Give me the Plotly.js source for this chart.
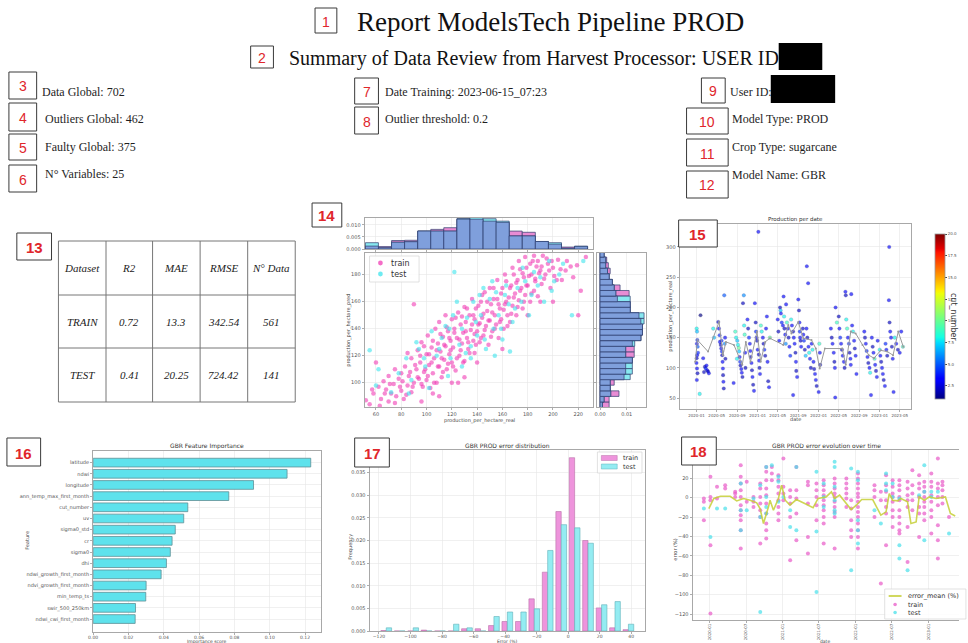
<!DOCTYPE html>
<html><head><meta charset="utf-8">
<script src="https://cdn.plot.ly/plotly-3.0.1.min.js"></script>
<style>html,body{margin:0;padding:0;background:#fff;width:968px;height:643px;overflow:hidden;}#chart{display:block;width:968px;height:643px;overflow:hidden;}</style>
</head><body><div id="chart"></div>
<script>
// ---------------- DATA ----------------
const reportTitle = "Report ModelsTech Pipeline PROD";
const reportSubtitle = "Summary of Data Review from Harvest Processor: USER ID";
const summaryLeft = ["Data Global: 702", "Outliers Global: 462", "Faulty Global: 375", "N° Variables: 25"];
const summaryMid = ["Date Training: 2023-06-15_07:23", "Outlier threshold: 0.2"];
const summaryRight = ["User ID:", "Model Type: PROD", "Crop Type: sugarcane", "Model Name: GBR"];

const tableHeader = ["Dataset", "R2", "MAE", "RMSE", "N° Data"];
const tableTrain = ["TRAIN", "0.72", "13.3", "342.54", "561"];
const tableTest = ["TEST", "0.41", "20.25", "724.42", "141"];

const seriesNames = ["train", "test"];
const errMeanName = "error_mean (%)";

// chart 14 : real vs predicted
const trainReal = [52,55,58,62,64,66,68,70,72,74,76,78,80,80,82,83,85,86,88,88,90,90,92,93,94,95,96,97,98,100,100,101,102,103,104,105,106,107,108,109,110,110,111,112,113,114,115,115,116,117,118,119,120,120,121,122,123,124,125,126,127,128,129,130,130,131,132,133,134,135,136,137,138,138,139,140,141,142,143,144,145,146,147,148,149,150,151,152,153,154,155,156,157,158,159,160,161,162,163,164,165,166,167,168,169,170,171,172,173,174,175,176,177,178,179,180,182,183,184,185,186,187,188,190,191,192,194,196,198,200,203,206,210,214,222,220,110,96,125,140,60,
57,63,67,71,75,79,81,84,87,89,91,93,95,96,98,99,101,102,104,105,106,108,109,111,112,113,114,116,117,118,119,121,122,123,124,126,127,128,129,131,132,133,134,136,137,138,139,141,142,143,144,145,146,148,149,150,151,152,153,154,156,157,158,159,161,162,163,164,166,167,168,169,171,172,173,174,176,177,178,179,181,182,183,185,186,188,189,191,193,195,197,199,201,204,207,211,216,219,226,190,75,85,105,130,160,180,120,70,200,65,58];
const trainPred = [87,84,92,97,88,101,95,86,92,99,90,103,94,107,88,112,98,105,118,93,100,158,110,124,103,115,130,97,108,121,102,135,113,96,126,107,118,140,100,129,112,145,123,104,134,117,127,150,110,138,121,131,115,147,126,140,109,133,152,120,143,129,137,156,116,145,133,125,150,139,162,131,147,122,155,138,143,130,160,148,135,167,142,153,128,146,158,138,170,150,143,162,133,155,147,170,140,158,175,150,163,145,172,157,180,166,150,176,161,184,170,155,178,165,185,172,160,180,190,168,177,186,164,183,173,194,180,188,170,185,176,184,183,186,168,150,90,86,100,115,115,
95,83,92,99,85,97,101,91,108,97,113,104,120,99,127,110,105,121,115,131,100,124,112,136,118,108,128,141,114,133,124,112,137,148,118,132,124,149,115,138,155,130,122,143,150,136,128,157,144,133,165,151,139,160,146,170,134,152,162,140,176,158,145,166,154,180,160,142,170,151,185,163,174,156,190,168,181,160,193,172,179,188,166,194,175,190,181,186,177,192,183,190,179,191,176,190,178,187,193,160,110,122,92,104,125,150,100,105,160,78,80];
const testReal = [55,62,72,84,88,94,99,104,108,112,117,121,122,126,128,132,135,137,140,143,147,150,153,155,157,160,163,165,168,172,175,178,181,185,188,193,197,201,205,215,224,135,145,166,118,
60,78,92,102,115,119,124,131,139,146,152,159,162,170,176,183,190,199,208,128,142,110,98,86,154];
const testPred = [124,110,93,118,102,125,112,138,120,133,105,150,182,128,112,148,127,160,135,150,125,162,140,167,150,132,172,158,145,170,160,175,150,182,172,160,190,175,180,150,190,118,170,123,140,
98,107,130,96,142,118,160,122,145,132,175,140,165,155,185,165,178,168,188,140,165,125,118,92,120];
const histXCenters = [56.8,67.1,77.5,87.8,98.2,108.5,118.8,129.2,139.5,149.9,160.2,170.5,180.9,191.2,201.6,211.9,222.2];
const histXTrain = [0.0012,0.0010,0.0035,0.0036,0.0074,0.0081,0.0088,0.0123,0.0123,0.0115,0.0110,0.0074,0.0069,0.0031,0.0020,0.0008,0.0010];
const histXTest = [0.0026,0.0005,0.0028,0.0030,0.0074,0.0074,0.0074,0.0126,0.0134,0.0125,0.0115,0.0054,0.0054,0.0031,0.0026,0.0003,0.0012];
const histYCenters = [83.7,87.8,91.9,96.0,100.2,104.3,108.4,112.5,116.7,120.8,124.9,129.0,133.2,137.3,141.4,145.5,149.7,153.8,157.9,162.0,166.2,170.3,174.4,178.5,182.7,186.8,190.9,195.0];
const histYTrain = [0.0034,0.0034,0.0071,0.0038,0.0053,0.0090,0.0096,0.0096,0.0121,0.0128,0.0128,0.0121,0.0153,0.0159,0.0159,0.0153,0.0146,0.0113,0.0113,0.0065,0.0109,0.0075,0.0046,0.0034,0.0038,0.0031,0.0025,0.0015];
const histYTest = [0.0009,0.0015,0.0040,0.0038,0.0038,0.0113,0.0121,0.0121,0.0121,0.0096,0.0096,0.0130,0.0153,0.0159,0.0159,0.0165,0.0165,0.0113,0.0113,0.0113,0.0059,0.0053,0.0046,0.0034,0.0028,0.0021,0.0021,0.0015];

// chart 15 : production per date
const prodDates = ["2020-01-02","2020-01-04","2020-01-06","2020-01-03","2020-01-08","2020-01-05","2020-01-02","2020-01-04","2020-01-07","2020-01-03","2020-01-25","2020-01-20","2020-01-10","2020-01-01",
"2020-02-10","2020-02-20","2020-02-25","2020-03-05","2020-03-10","2020-03-15","2020-02-15","2020-03-01",
"2020-05-10","2020-05-14","2020-05-18","2020-05-20","2020-05-25","2020-05-28","2020-06-01","2020-06-03","2020-06-05","2020-06-07","2020-06-08","2020-06-10","2020-06-12","2020-06-15","2020-06-18","2020-06-20","2020-04-10","2020-04-15","2020-06-22","2020-05-30",
"2020-08-20","2020-08-25","2020-09-01","2020-09-05","2020-09-10","2020-09-12","2020-09-15","2020-09-18","2020-09-20","2020-09-25","2020-09-28","2020-10-02","2020-10-05","2020-10-10","2020-10-12","2020-10-15","2020-08-10","2020-10-18","2020-10-20","2020-08-30",
"2020-11-01","2020-11-05","2020-11-10","2020-11-15","2020-11-18","2020-11-20","2020-11-25","2020-11-28","2020-12-01","2020-12-05","2020-12-10","2020-12-15","2020-12-20","2020-12-22","2020-12-25","2020-12-28","2021-01-01","2021-01-05","2021-01-08","2021-01-10","2021-01-12","2021-01-15","2021-01-20","2021-01-25","2021-02-01","2021-02-05","2021-02-10","2021-02-15","2021-02-20","2021-02-25","2021-03-01","2021-03-05","2021-03-10","2021-03-15",
"2021-05-01","2021-05-05","2021-05-10","2021-05-15","2021-05-18","2021-05-20","2021-05-25","2021-06-01","2021-06-05","2021-06-08","2021-06-10","2021-06-15","2021-06-18","2021-06-20","2021-06-25","2021-07-01","2021-07-05","2021-07-10","2021-07-15","2021-07-20","2021-07-25","2021-08-01","2021-08-05","2021-08-10","2021-08-15","2021-08-18","2021-08-20","2021-08-25","2021-09-01","2021-09-05","2021-09-08","2021-09-10","2021-09-12","2021-09-15","2021-09-18","2021-10-22","2021-10-30","2021-09-28","2021-10-01","2021-10-05","2021-10-10","2021-10-15","2021-10-20","2021-10-25","2021-11-01","2021-11-05","2021-11-10","2021-11-15","2021-11-20","2021-11-25","2021-12-01","2021-12-05","2021-12-10","2021-12-15","2021-12-20","2022-01-01","2022-01-05","2022-01-08","2022-01-10","2021-08-01",
"2022-03-15","2022-03-20","2022-03-25","2022-04-01","2022-04-05","2022-04-08","2022-04-10","2022-04-12","2022-04-20","2022-05-01","2022-05-05","2022-05-10","2022-05-15","2022-05-20","2022-05-25","2022-06-01","2022-06-05","2022-06-10","2022-06-12","2022-06-15","2022-06-20","2022-06-25","2022-07-01","2022-07-05","2022-07-10","2022-07-12","2022-07-15","2022-07-20","2022-07-25","2022-08-01","2022-08-05","2022-08-10","2022-08-15",
"2022-10-01","2022-10-05","2022-10-10","2022-10-15","2022-10-20","2022-10-25","2022-11-01","2022-11-05","2022-11-10","2022-11-15","2022-11-20","2022-11-25","2022-12-01","2022-12-05","2022-12-10","2022-12-15","2022-12-20","2023-01-01","2023-01-05","2023-01-10","2023-01-15","2023-01-20","2023-01-25","2023-02-01","2023-02-05","2023-02-10","2023-02-15","2023-02-27","2023-02-25","2023-03-01","2023-03-05","2023-03-10","2023-03-15","2023-03-20","2023-03-25","2023-04-01","2023-04-10","2023-04-20","2023-05-01","2023-05-10","2023-05-20"];
const prodVals = [165,160,146,140,135,121,116,99,91,80,187,57,125,108,
116,102,99,96,94,91,93,104,
176,165,154,143,138,132,127,121,110,99,88,77,66,220,140,150,165,150,115,145,
160,150,145,138,133,127,118,110,104,98,92,85,207,220,170,155,75,125,100,115,
180,165,150,140,128,118,108,96,85,72,62,207,175,160,150,145,130,325,122,112,100,90,170,160,150,140,130,120,165,185,110,78,68,150,
180,160,145,200,195,190,175,170,218,185,165,155,140,205,175,165,150,135,120,180,170,160,150,140,125,110,95,85,213,195,175,160,150,145,135,268,240,165,155,145,130,120,165,150,135,125,115,100,140,130,110,98,90,80,70,60,140,125,105,55,
165,150,140,125,110,100,51,200,175,185,165,150,140,130,120,110,100,226,220,180,165,150,140,125,115,105,222,170,160,145,132,120,90,
160,150,140,128,118,108,100,92,55,150,135,125,115,105,95,85,145,130,120,110,100,90,80,70,140,130,120,300,212,175,160,150,135,115,60,150,140,130,125,160,135];
const prodCuts = [8,7,4,3,5,3,2,3,2,3,1,8,4,3,
3,2,4,3,2,3,2,3,
2,3,4,3,2,3,4,2,3,3,2,3,2,5,6,3,8,7,2,4,
9,8,7,8,10,7,3,4,2,3,3,2,2,6,8,9,3,3,2,8,
3,2,4,3,3,2,3,2,3,2,3,3,2,4,3,2,3,3,2,3,2,3,9,8,3,2,4,2,3,3,3,2,3,10,
3,2,3,2,7,3,4,3,3,8,2,3,6,3,9,3,2,3,4,8,3,2,3,3,2,3,2,3,3,2,3,4,3,2,3,3,3,2,3,4,2,7,3,2,3,8,3,2,3,8,3,2,3,3,2,3,9,3,2,3,
3,2,3,3,2,3,3,3,9,2,3,4,3,2,3,3,2,3,2,8,9,3,4,2,3,3,3,3,8,3,2,3,3,
3,2,3,4,3,2,3,8,3,3,2,3,9,3,2,3,3,8,3,2,3,3,2,3,4,3,2,3,3,2,3,3,2,3,3,8,3,2,3,3,9];
const prodLineDates = ["2019-12-24","2020-01-07","2020-03-10","2020-05-15","2020-06-07","2020-06-25","2020-08-12","2020-10-01","2020-10-22","2020-11-19","2020-12-28","2021-01-19","2021-02-15","2021-03-15","2021-06-03","2021-07-03","2021-07-22","2021-09-01","2021-10-01","2021-11-19","2021-12-15","2022-01-07","2022-02-07","2022-05-22","2022-06-12","2022-07-12","2022-08-10","2022-09-20","2022-10-28","2022-11-28","2023-01-07","2023-02-15","2023-03-22","2023-04-22","2023-05-22"];
const prodLineVals = [110,146,127,176,121,143,138,105,143,110,160,110,143,149,138,171,157,176,149,146,132,99,132,132,105,160,157,138,121,116,129,127,121,160,135];

// chart 16 : feature importance
const featureNames = ["latitude","ndwi","longitude","ann_temp_max_first_month","cut_number","uv","sigma0_std","cr","sigma0","dhi","ndwi_growth_first_month","ndvi_growth_first_month","min_temp_ts","swir_500_250km","ndwi_cwi_first_month"];
const featureImportance = [0.1232,0.1098,0.0908,0.0768,0.0536,0.0513,0.0465,0.0447,0.0437,0.0415,0.0385,0.0300,0.0298,0.0240,0.0238];

// chart 17 : error distribution
const errBins = [-115.4,-106.9,-98.3,-89.8,-81.3,-72.7,-64.2,-55.6,-47.1,-38.6,-30.0,-21.5,-13.0,-4.4,4.1,12.6,21.2,29.7,38.2];
const errHistTrain = [0.0001,0,0,0.0002,0,0,0.0005,0.0005,0.0012,0.0021,0.0021,0.0071,0.0130,0.0264,0.0383,0.0200,0.0051,0.0007,0.0003];
const errHistTest = [0.0007,0,0.0007,0,0,0.0015,0.0007,0,0.0032,0.0042,0.0042,0.0049,0.0178,0.0235,0.0228,0.0194,0.0058,0.0065,0.0015];

// chart 18 : error over time
const errColDates = ["2019-12-02","2020-01-04","2020-02-06","2020-03-18","2020-05-07","2020-06-04","2020-07-04","2020-08-07","2020-09-10","2020-10-10","2020-11-07","2020-12-10","2021-01-04","2021-02-07","2021-03-10","2021-05-07","2021-06-19","2021-07-25","2021-09-18","2021-11-16","2021-12-10","2022-01-13","2022-04-06","2022-05-08","2022-06-03","2022-07-06","2022-08-09","2022-09-19","2022-10-13","2022-11-16","2022-12-12","2023-01-16","2023-02-18","2023-03-13","2023-04-15"];
const errTrainCols = [[-1,-4.4,-23.3],[21.4,0.7,-2.7,-49,-119.4],[11.1,-1],[12.8,9.3],[5.9,4.2,0.7],[33.4,21.4,14.5,7.6,0.7,-7.8,-13,-18.1,-23.3,-33.6,-52.5],[16.2,-4.4],[0.7,-4.4,-9.6],[14.5,9.3,0.7,-6.1,-13,-19.9,-47.3],[31.6,26.5,17.9,9.3,2.5,-6.1,-16.4,-26.7,-33.6,-42.2],[31.6,24.8,17.9],[23.1,17.9,11.1,4.2,-2.7,-9.6,-16.4,-23.3],[40.3,11.1,4.2,-2.7],[7.6,0.7,-6.1,-19.9,-64.5],[31.6,7.6,-1,-16.4,-43.9],[16.2,12.8,-6.1,-40.5,-57.6],[14.5,7.6,0.7,-7.8,-23.3],[17.9,12.8,7.6,2.5,-2.7,-7.8,-13,-19.9,-26.7,-47.3],[19.7,14.5,9.3,4.2,0.7,-4.4,-9.6,-14.7,-19.9,-52.5],[19.7,14.5,9.3,4.2,-1,-9.6],[-2.7,-11.3,-23.3,-33.6,-40.5],[24.8,19.7,14.5,9.3,4.2,0.7,-4.4,-9.6,-14.7,-19.9,-26.7,-33.6,-40.5,-52.5],[12.8,7.6,0.7,-19.9],[5.9,-2.7,-88.5],[23.1,12.8,5.9,-2.7,-9.6,-16.4,-49],[17.9,11.1,4.2,0.7,-4.4,-13,-19.9,-30.2],[17.9,12.8,7.6,0.7,-2.7,-13,-19.9,-26.7,-33.6,-37],[16.2,9.3,2.5,-2.7,-9.6,-30.2,-66.2],[28.2,12.8,4.2,-2.7,-13],[23.1,14.5,9.3,0.7,-9.6,-16.4,-40.5],[16.2,11.1,5.9,0.7,-4.4,-9.6,-16.4,-23.3],[24.8,16.2,11.1,2.5,-4.4,-13,-19.9,-37],[40.3,14.5,9.3,0.7,-7.8,-28.4,-43.9,-62.8],[16.2,12.8,7.6,0.7,-6.1],[-19.9]];
const errTestCols = [[-11.3],[-40.5],[-11.3],[-11.3],[],[14.5,-13,-33.6],[-13],[-1],[12.8,-19.9,-117.7],[31.6,0.7,-9.6,-16.4],[33.4],[21.4,16.2,-4.4],[0.7],[-13,-30.2],[31.6,-33.6],[],[26.5,-35,-97.1],[14.5,0.7,-9.6],[36.8,31.6,11.1,-2.7,-13,-16.4],[],[30,-74.8],[26.5,17.9,-23.3,-33.6,-47.3],[-13],[-26.7],[24.8,14.5,7.6],[14.5,0.7],[-1,-49,-62.8],[-74.8],[],[2.5],[33.4,5.9,-43.9],[5.9,0.7],[5.9],[],[-37]];
const errMeanDates = ["2019-12-27","2020-01-21","2020-02-23","2020-04-12","2020-05-15","2020-06-18","2020-07-21","2020-08-23","2020-09-09","2020-09-26","2020-10-21","2020-10-29","2020-11-15","2020-12-10","2020-12-26","2021-01-13","2021-02-06","2021-03-10","2021-04-21","2021-06-02","2021-06-27","2021-08-06","2021-09-02","2021-09-18","2021-10-13","2021-11-08","2021-12-10","2022-01-05","2022-02-01","2022-03-28","2022-05-08","2022-06-03","2022-06-19","2022-07-06","2022-08-01","2022-08-16","2022-09-19","2022-10-06","2022-11-01","2022-11-16","2022-12-12","2023-01-06","2023-02-09","2023-03-28","2023-04-22","2023-05-16"];
const errMeanVals = [-11.3,-0.9,1.4,1.4,-3.4,-0.9,-2.7,-5.4,-11.3,-26.7,-9.6,-2.7,-13,-0.9,12.8,-2.7,-7.8,-2,-6.1,-10.3,-0.9,0.7,5.9,-0.9,2.5,-4.4,-12.3,-7.8,-2,-2,-18.1,-14.7,4.2,-2.7,-3.4,-0.9,-4.4,-26.7,-25,0.7,-2.7,0.7,-0.9,0.7,-16.4,-18.9];

// ---------------- HELPERS ----------------
const W = 968, H = 643;
const X = v => v / W, Y = v => 1 - v / H;
const dx = (a, b) => [a / W, b / W], dy = (a, b) => [1 - b / H, 1 - a / H];
const tickFont = {family: 'DejaVu Sans', size: 5, color: '#555'};
function axis(o) {
  return Object.assign({showline: true, linecolor: '#a8a8a8', linewidth: 1, mirror: true,
    showgrid: true, gridcolor: '#e6e6e6', gridwidth: 0.6, zeroline: false,
    ticks: 'outside', ticklen: 2, tickwidth: 0.6, tickcolor: '#777', tickfont: tickFont, fixedrange: true}, o);
}
const serif = 'Liberation Serif, Times New Roman, serif';
function ann(x, y, text, o) {
  return Object.assign({xref: 'paper', yref: 'paper', x: X(x), y: Y(y), text: text, showarrow: false,
    xanchor: 'left', yanchor: 'middle', font: {family: serif, size: 12, color: '#1e1e1e'}}, o || {});
}
function small(x, y, text, o) {
  return ann(x, y, text, Object.assign({xanchor: 'center', font: {family: 'DejaVu Sans', size: 5, color: '#444'}}, o || {}));
}
function rectPx(x0, y0, x1, y1, line, fill) {
  return {type: 'rect', xref: 'paper', yref: 'paper', x0: X(x0), x1: X(x1), y0: Y(y1), y1: Y(y0),
    line: line, fillcolor: fill, layer: 'above'};
}
function linePx(x0, y0, x1, y1, color, width) {
  return {type: 'line', xref: 'paper', yref: 'paper', x0: X(x0), x1: X(x1), y0: Y(y0), y1: Y(y1),
    line: {color: color || '#777', width: width || 1}, layer: 'above'};
}
function dotPx(x, y, r, color) {
  return {type: 'circle', xref: 'paper', yref: 'paper', x0: X(x - r), x1: X(x + r), y0: Y(y + r), y1: Y(y - r),
    fillcolor: color, line: {width: 0}, opacity: 0.75, layer: 'above'};
}

const shapes = [], annotations = [];
const pink = '#f03cb4', cyan = '#3ee4ec';

// numbered red boxes
const numBoxes = [
  ['1', 318, 8, 340, 33, false], ['2', 253, 46, 276, 68, false],
  ['3', 9, 72, 37, 99, false], ['4', 9, 103, 37, 131, false], ['5', 9, 134, 37, 160, false], ['6', 9, 165, 37, 192, false],
  ['7', 358, 78, 382, 104, false], ['8', 358, 107, 382, 134, false],
  ['9', 708, 78, 732, 103, false], ['10', 693, 108, 735, 134, false], ['11', 693, 139, 735, 166, false], ['12', 693, 171, 735, 198, false],
  ['13', 17, 233, 52, 260, true], ['14', 315, 203, 345, 227, true], ['15', 685, 220, 724, 247, true],
  ['16', 7, 438, 41, 466, true], ['17', 358, 438, 393, 467, true], ['18', 688, 437, 723, 465, true]
];
numBoxes.forEach(b => {
  shapes.push(rectPx(b[1], b[2], b[3], b[4], {color: '#3a3a3a', width: 1}, '#ffffff'));
  annotations.push(ann((b[1] + b[3]) / 2, (b[2] + b[4]) / 2 + 1, b[5] ? '<b>' + b[0] + '</b>' : b[0],
    {xanchor: 'center', font: {family: 'Liberation Sans, Arial', size: b[5] ? 15 : 14, color: '#e0262b'}}));
});

// header texts
annotations.push(ann(556, 22, reportTitle, {xanchor: 'center', font: {family: serif, size: 27, color: '#111'}}));
annotations.push(ann(290, 59, reportSubtitle, {font: {family: serif, size: 20, color: '#111'}}));
shapes.push(rectPx(786, 43, 830, 70, {width: 0}, '#000'));
const leftX = [40, 43, 43, 43], leftY = [92, 119, 147, 174];
summaryLeft.forEach((t, i) => annotations.push(ann(leftX[i], leftY[i], t)));
const midY = [92, 119];
summaryMid.forEach((t, i) => annotations.push(ann(387, midY[i], t)));
const rightX = [735, 737, 737, 737], rightY = [92, 119, 147, 175];
summaryRight.forEach((t, i) => annotations.push(ann(rightX[i], rightY[i], t)));
shapes.push(rectPx(778, 75, 843, 103, {width: 0}, '#000'));

// table 13
const colEdges = [59, 107, 154, 202, 250, 298], rowEdges = [241, 295, 348, 402];
colEdges.forEach(c => shapes.push(linePx(c, rowEdges[0], c, rowEdges[3])));
rowEdges.forEach(r => shapes.push(linePx(colEdges[0], r, colEdges[5], r)));
[tableHeader, tableTrain, tableTest].forEach((row, ri) => {
  row.forEach((t, ci) => annotations.push(ann((colEdges[ci] + colEdges[ci + 1]) / 2, (rowEdges[ri] + rowEdges[ri + 1]) / 2,
    '<i>' + t + '</i>', {xanchor: 'center', font: {family: serif, size: 11, color: '#222'}})));
});

// sub-chart titles & axis labels
annotations.push(small(803, 220, 'Production per date', {font: {family: 'DejaVu Sans', size: 5.5, color: '#333'}}));
annotations.push(small(209, 446, 'GBR Feature Importance', {font: {family: 'DejaVu Sans', size: 6, color: '#333'}}));
annotations.push(small(512, 446, 'GBR PROD error distribution', {font: {family: 'DejaVu Sans', size: 6, color: '#333'}}));
annotations.push(small(834, 446, 'GBR PROD error evolution over time', {font: {family: 'DejaVu Sans', size: 6, color: '#333'}}));
annotations.push(small(484, 420, 'production_per_hectare_real'));
annotations.push(small(351, 330, 'production_per_hectare_pred', {textangle: -90}));
annotations.push(small(803, 419, 'date'));
annotations.push(small(677, 316, 'production_per_hectare_real', {textangle: -90}));
annotations.push(small(963, 317, 'cut_number', {textangle: 90, font: {family: 'DejaVu Sans', size: 8, color: '#333'}}));
annotations.push(small(27, 540, 'Feature', {textangle: -90}));
annotations.push(small(209, 641.3, 'Importance score', {font: {family: 'DejaVu Sans', size: 4.5, color: '#444'}}));
annotations.push(small(353, 547, 'Frequency', {textangle: -90}));
annotations.push(small(512, 641.3, 'Error (%)', {font: {family: 'DejaVu Sans', size: 4.5, color: '#444'}}));
annotations.push(small(681, 550, 'error (%)', {textangle: -90}));
annotations.push(small(833, 641.3, 'date', {font: {family: 'DejaVu Sans', size: 4.5, color: '#444'}}));

// manual legends
const legFont = s => ({family: 'DejaVu Sans', size: s, color: '#333'});
shapes.push(rectPx(373, 256, 423, 282, {color: '#d4d4d4', width: 0.7}, 'rgba(255,255,255,0.85)'));
shapes.push(dotPx(384, 263, 2.4, pink));
shapes.push(dotPx(384, 274, 2.4, cyan));
annotations.push(ann(393, 263, seriesNames[0], {font: legFont(8)}));
annotations.push(ann(393, 274, seriesNames[1], {font: legFont(8)}));
shapes.push(rectPx(603, 452, 648, 473, {color: '#d4d4d4', width: 0.7}, 'rgba(255,255,255,0.85)'));
shapes.push(rectPx(607, 455.5, 623, 460.5, {color: '#b870a8', width: 0.5}, '#ee94dc'));
shapes.push(rectPx(607, 464, 623, 469, {color: '#60b0b8', width: 0.5}, '#94ecf2'));
annotations.push(ann(627, 458, seriesNames[0], {font: legFont(6.5)}));
annotations.push(ann(627, 466.5, seriesNames[1], {font: legFont(6.5)}));
shapes.push(rectPx(893, 589, 975, 619, {color: '#d4d4d4', width: 0.7}, 'rgba(255,255,255,0.85)'));
shapes.push(linePx(897, 596, 910, 596, '#c6cf36', 1.6));
shapes.push(dotPx(903.5, 604.5, 1.8, '#e85ac8'));
shapes.push(dotPx(903.5, 612.5, 1.8, '#48e0ea'));
annotations.push(ann(914, 596, errMeanName, {font: legFont(6.5)}));
annotations.push(ann(914, 604.5, seriesNames[0], {font: legFont(6.5)}));
annotations.push(ann(914, 612.5, seriesNames[1], {font: legFont(6.5)}));

// ---------------- TRACES ----------------
const traces = [];
const jetMpl = [[0,'rgb(0,0,127)'],[0.11,'rgb(0,0,255)'],[0.125,'rgb(0,0,255)'],[0.34,'rgb(0,219,255)'],[0.375,'rgb(20,255,226)'],[0.64,'rgb(238,255,8)'],[0.66,'rgb(255,236,0)'],[0.89,'rgb(255,18,0)'],[0.91,'rgb(228,0,0)'],[1,'rgb(127,0,0)']];
traces.push({type: 'scatter', mode: 'markers', x: trainReal, y: trainPred, name: seriesNames[0], xaxis: 'x', yaxis: 'y',
  marker: {color: pink, size: 4.5, opacity: 0.6}});
traces.push({type: 'scatter', mode: 'markers', x: testReal, y: testPred, name: seriesNames[1], xaxis: 'x', yaxis: 'y',
  marker: {color: cyan, size: 4.5, opacity: 0.6}});
const edge = {color: '#2e3d6e', width: 0.7};
const minOf = (a, b) => a.map((v, i) => Math.min(v, b[i]));
traces.push({type: 'bar', x: histXCenters, y: histXTrain, width: 10.3, xaxis: 'x2', yaxis: 'y2', marker: {color: '#e88cd4', line: edge}});
traces.push({type: 'bar', x: histXCenters, y: histXTest, width: 10.3, xaxis: 'x2', yaxis: 'y2', marker: {color: '#88e8f0', line: edge}});
traces.push({type: 'bar', x: histXCenters, y: minOf(histXTrain, histXTest), width: 10.3, xaxis: 'x2', yaxis: 'y2', marker: {color: '#7f9fdc', line: edge}});
traces.push({type: 'bar', orientation: 'h', y: histYCenters, x: histYTrain, width: 4.1, xaxis: 'x3', yaxis: 'y3', marker: {color: '#e88cd4', line: edge}});
traces.push({type: 'bar', orientation: 'h', y: histYCenters, x: histYTest, width: 4.1, xaxis: 'x3', yaxis: 'y3', marker: {color: '#88e8f0', line: edge}});
traces.push({type: 'bar', orientation: 'h', y: histYCenters, x: minOf(histYTrain, histYTest), width: 4.1, xaxis: 'x3', yaxis: 'y3', marker: {color: '#7f9fdc', line: edge}});
traces.push({type: 'scatter', mode: 'markers', x: prodDates, y: prodVals, xaxis: 'x4', yaxis: 'y4',
  marker: {color: prodCuts, colorscale: jetMpl, cmin: 1, cmax: 20, size: 3.6, opacity: 0.65, line: {width: 0.4, color: 'rgba(0,0,90,0.5)'},
    colorbar: {x: X(934), xanchor: 'left', y: 1 - 316.5 / H, yanchor: 'middle', len: 185 / H, lenmode: 'fraction', thickness: 10,
      outlinewidth: 0.8, outlinecolor: '#999', ticks: 'outside', ticklen: 2, tickfont: {family: 'DejaVu Sans', size: 4, color: '#555'},
      tickvals: [2.5, 5, 7.5, 10, 12.5, 15, 17.5, 20], ticktext: ['2.5', '5.0', '7.5', '10.0', '12.5', '15.0', '17.5', '20.0']}}});
traces.push({type: 'scatter', mode: 'lines+markers', x: prodLineDates, y: prodLineVals, xaxis: 'x4', yaxis: 'y4',
  line: {color: '#9a9a9a', width: 1}, marker: {color: '#9a9a9a', size: 2}});
traces.push({type: 'bar', orientation: 'h', x: featureImportance, y: featureNames, width: 0.78, xaxis: 'x5', yaxis: 'y5',
  marker: {color: '#5ee2ec', line: {color: '#5f8f96', width: 0.8}}});
const bw = 3.4;
traces.push({type: 'bar', x: errBins, y: errHistTrain, width: bw, offset: -bw, xaxis: 'x6', yaxis: 'y6', name: seriesNames[0],
  marker: {color: '#ee94dc', line: {color: '#b870a8', width: 0.6}}});
traces.push({type: 'bar', x: errBins, y: errHistTest, width: bw, offset: 0, xaxis: 'x6', yaxis: 'y6', name: seriesNames[1],
  marker: {color: '#94ecf2', line: {color: '#60b0b8', width: 0.6}}});
const flatX = (dates, cols) => cols.flatMap((c, i) => c.map(() => dates[i]));
const flatY = cols => cols.flat();
traces.push({type: 'scatter', mode: 'markers', x: flatX(errColDates, errTrainCols), y: flatY(errTrainCols), xaxis: 'x7', yaxis: 'y7',
  name: seriesNames[0], marker: {color: '#e85ac8', size: 4, opacity: 0.7}});
traces.push({type: 'scatter', mode: 'markers', x: flatX(errColDates, errTestCols), y: flatY(errTestCols), xaxis: 'x7', yaxis: 'y7',
  name: seriesNames[1], marker: {color: '#48e0ea', size: 4, opacity: 0.7}});
traces.push({type: 'scatter', mode: 'lines', x: errMeanDates, y: errMeanVals, xaxis: 'x7', yaxis: 'y7',
  name: errMeanName, line: {color: '#c6cf36', width: 1.6}, opacity: 0.85});

// ---------------- LAYOUT ----------------
const smallTick = {family: 'DejaVu Sans', size: 4.5, color: '#555'};
const layout = {
  width: W, height: H, margin: {l: 0, r: 0, t: 0, b: 0}, paper_bgcolor: '#fff', plot_bgcolor: '#fff',
  barmode: 'overlay', showlegend: false, shapes: shapes, annotations: annotations,
  xaxis: axis({domain: dx(368, 599), anchor: 'y', range: [51, 232], tickvals: [60, 80, 100, 120, 140, 160, 180, 200, 220]}),
  yaxis: axis({domain: dy(253, 407), anchor: 'x', range: [82, 196], tickvals: [100, 120, 140, 160, 180]}),
  xaxis2: axis({domain: dx(368, 599), anchor: 'y2', range: [51, 232], tickvals: [60, 80, 100, 120, 140, 160, 180, 200, 220], showticklabels: false}),
  yaxis2: axis({domain: dy(218, 249), anchor: 'x2', range: [0, 0.0128], tickvals: [0, 0.005, 0.01], ticktext: ['0.000', '0.005', '0.010']}),
  xaxis3: axis({domain: dx(603, 652), anchor: 'y3', range: [-0.001, 0.0172], tickvals: [0, 0.01], ticktext: ['0.00', '0.01']}),
  yaxis3: axis({domain: dy(253, 407), anchor: 'x3', range: [82, 196], tickvals: [100, 120, 140, 160, 180], showticklabels: false}),
  xaxis4: axis({domain: dx(686, 920), anchor: 'y4', type: 'date', range: ['2019-09-22', '2023-07-10'], tick0: '2020-01-01', dtick: 'M4', tickformat: '%Y-%m', tickangle: 0, tickfont: {family: 'DejaVu Sans', size: 4, color: '#555'}}),
  yaxis4: axis({domain: dy(224, 409), anchor: 'x4', range: [32, 338], tickvals: [50, 100, 150, 200, 250, 300]}),
  xaxis5: axis({domain: dx(94, 324), anchor: 'y5', range: [0, 0.129], tickvals: [0, 0.02, 0.04, 0.06, 0.08, 0.1, 0.12], ticktext: ['0.00', '0.02', '0.04', '0.06', '0.08', '0.10', '0.12'], tickfont: smallTick, ticklabelstandoff: -1}),
  yaxis5: axis({domain: dy(451, 632), anchor: 'x5', type: 'category', range: [15.16, -1.04]}),
  xaxis6: axis({domain: dx(373, 651), anchor: 'y6', range: [-126, 48.7], tickvals: [-120, -100, -80, -60, -40, -20, 0, 20, 40], tickfont: smallTick, ticklabelstandoff: -1}),
  yaxis6: axis({domain: dy(450, 631), anchor: 'x6', range: [0, 0.040], tickvals: [0, 0.005, 0.01, 0.015, 0.02, 0.025, 0.03, 0.035], ticktext: ['0.000', '0.005', '0.010', '0.015', '0.020', '0.025', '0.030', '0.035']}),
  xaxis7: axis({domain: dx(699, 968), anchor: 'y7', type: 'date', range: ['2019-10-06', '2023-06-04'], tick0: '2020-01-01', dtick: 'M6', tickformat: '%Y-%m', tickangle: -90, tickfont: {family: 'DejaVu Sans', size: 4, color: '#555'}, ticklabelstandoff: -1}),
  yaxis7: axis({domain: dy(450, 620), anchor: 'x7', range: [-126, 49], tickvals: [-120, -100, -80, -60, -40, -20, 0, 20], mirror: false})
};
Plotly.newPlot('chart', traces, layout, {staticPlot: true, displayModeBar: false});
</script></body></html>
